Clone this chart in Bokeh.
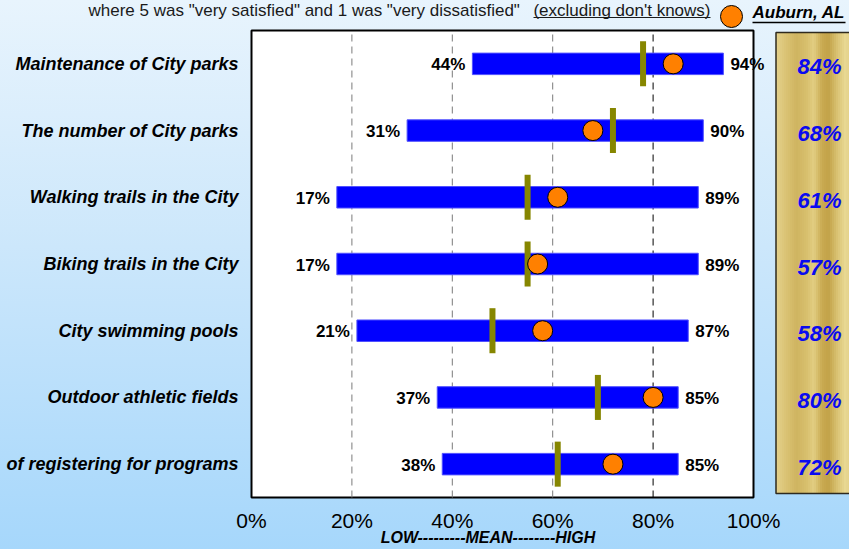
from bokeh.plotting import figure
from bokeh.models import Range1d
from bokeh.core.properties import value
from bokeh.embed import file_html
from bokeh.resources import INLINE

# ---------------- data ----------------
categories = ["Maintenance of City parks", "The number of City parks",
              "Walking trails in the City", "Biking trails in the City",
              "City swimming pools", "Outdoor athletic fields",
              "of registering for programs"]
low = [44, 31, 17, 17, 21, 37, 38]
high = [94, 90, 89, 89, 87, 85, 85]
mean = [78, 72, 55, 55, 48, 69, 61]
auburn = [84, 68, 61, 57, 58, 80, 72]
x_ticks = [0, 20, 40, 60, 80, 100]
x_tick_labels = ["0%", "20%", "40%", "60%", "80%", "100%"]
legend_label = "Auburn, AL"
axis_title = "LOW---------MEAN--------HIGH"
note_main = 'where 5 was "very satisfied" and 1 was "very dissatisfied"'
note_tail = "(excluding don't knows)"

# ---------------- layout (figure pixels) ----------------
W, H = 849, 549
FX0, FX1 = 251, 753          # pixel of 0% and 100%
FY_TOP, FY_BOT = 30, 497     # chart box top / bottom
ppu = (FX1 - FX0) / 100.0
n = len(categories)
row_px = (FY_BOT - FY_TOP) / n
ys = [n - 0.5 - k for k in range(n)]
FONT = value("Liberation Sans")

p = figure(width=W, height=H, output_backend="svg", toolbar_location=None,
           x_range=Range1d(-FX0 / ppu, (W - FX0) / ppu),
           y_range=Range1d(-(H - FY_BOT) / row_px, FY_BOT / row_px),
           min_border=0, x_axis_location=None, y_axis_location=None)
p.extra_x_ranges = {"px": Range1d(0, W)}
p.extra_y_ranges = {"px": Range1d(H, 0)}
p.grid.visible = False
p.outline_line_color = None
p.background_fill_color = None
p.border_fill_color = None
p.styles = {"background": "linear-gradient(180deg, #e8f4fd 0%, #cce7fb 45%, #a6d7fb 100%)"}

# chart box
p.quad(left=[x_ticks[0]], right=[x_ticks[-1]], bottom=[0], top=[n],
       fill_color="white", line_color="black", line_width=2)
# dashed grid lines
grid_x = x_ticks[1:-1]
p.segment(x0=grid_x, y0=[0] * len(grid_x), x1=grid_x, y1=[n] * len(grid_x),
          line_color=["#7a7a7a", "#7a7a7a", "#7a7a7a", "#000000"],
          line_width=1, line_dash="7 5")

# range bars
p.hbar(y=ys, left=low, right=high, height=0.322,
       fill_color="#0000FF", line_color="#5050FF", line_width=1)
# mean markers
p.rect(x=mean, y=ys, width=6, width_units="screen", height=0.675,
       fill_color="#868600", line_color=None)
# Auburn dots
p.scatter(x=auburn, y=ys, size=20, fill_color="#FF8000",
          line_color="black", line_width=1)

# low / high labels
p.text(x=low, y=ys, text=[f"{v}%" for v in low], x_offset=-7, y_offset=1,
       text_align="right", text_baseline="middle", text_font=FONT,
       text_font_size="17px", text_font_style="bold", text_color="black")
p.text(x=high, y=ys, text=[f"{v}%" for v in high], x_offset=7, y_offset=1,
       text_align="left", text_baseline="middle", text_font=FONT,
       text_font_size="17px", text_font_style="bold", text_color="black")

# category labels
p.text(x=[x_ticks[0]] * n, y=ys, text=categories, x_offset=-13,
       text_align="right", text_baseline="middle", text_font=FONT,
       text_font_size="18px", text_font_style="bold italic", text_color="black")

# x tick labels (placed on the percent scale, below the chart box)
p.text(x=x_ticks, y=[520] * len(x_ticks), text=x_tick_labels, y_range_name="px",
       text_align="center", text_baseline="middle", text_font=FONT,
       text_font_size="21px", text_color="black")
p.text(x=[487.5], y=[537], text=[axis_title], x_range_name="px", y_range_name="px",
       text_align="center", text_baseline="middle", text_font=FONT,
       text_font_size="16px", text_font_style="bold italic", text_color="black")

# gold panel (decoration) in pixel coordinates
gx0, gx1, gy0, gy1 = 775.5, 849, 32, 493
stops = [(0.00, (0xe4, 0xd2, 0x8c)), (0.12, (0xda, 0xc3, 0x74)),
         (0.25, (0xcf, 0xb4, 0x60)), (0.38, (0xd8, 0xc0, 0x6e)),
         (0.46, (0xe2, 0xce, 0x82)), (0.56, (0xc9, 0xaa, 0x52)),
         (0.64, (0xc2, 0xa2, 0x48)), (0.74, (0xd8, 0xc0, 0x70)),
         (0.84, (0xe8, 0xd8, 0x92)), (0.93, (0xe2, 0xcf, 0x86)),
         (1.00, (0xd4, 0xbb, 0x68))]


def interp(t):
    for (t0, c0), (t1, c1) in zip(stops[:-1], stops[1:]):
        if t0 <= t <= t1:
            f = (t - t0) / (t1 - t0) if t1 > t0 else 0
            return "#%02x%02x%02x" % tuple(int(round(a + (b - a) * f)) for a, b in zip(c0, c1))
    return "#%02x%02x%02x" % stops[-1][1]


span_w = 82.0
nstr = 41
sw = span_w / nstr
lefts = [gx0 + i * sw for i in range(nstr)]
p.quad(left=lefts, right=[l + sw + 0.6 for l in lefts], bottom=[gy1] * nstr, top=[gy0] * nstr,
       fill_color=[interp((i + 0.5) / nstr) for i in range(nstr)], line_color=None,
       x_range_name="px", y_range_name="px")
p.quad(left=[gx0], right=[gx1 + 5], bottom=[gy1], top=[gy0], fill_color=None,
       line_color="#2e2a1e", line_width=1.5, x_range_name="px", y_range_name="px")

# Auburn values in the gold panel
p.text(x=[x_ticks[-1]] * n, y=ys, text=[f"{v}%" for v in auburn], x_offset=66, y_offset=3,
       text_align="center", text_baseline="middle", text_font=FONT,
       text_font_size="22px", text_font_style="bold italic", text_color="#0a0af0")

# legend
p.scatter(x=[731], y=[16], size=22, fill_color="#FF8000", line_color="black",
          line_width=1, x_range_name="px", y_range_name="px")
p.text(x=[752], y=[12], text=[legend_label], text_align="left", text_baseline="middle",
       text_font=FONT, text_font_size="17px", text_font_style="bold italic",
       text_color="black", x_range_name="px", y_range_name="px")
p.segment(x0=[752], y0=[22], x1=[845], y1=[22], line_color="black", line_width=1.5,
          x_range_name="px", y_range_name="px")

# note at top
p.text(x=[88], y=[0], text=[note_main], text_align="left", text_baseline="top",
       text_font=FONT, text_font_size="17px", text_color="#1a1a1a",
       x_range_name="px", y_range_name="px")
p.text(x=[710], y=[0], text=[note_tail], text_align="right", text_baseline="top",
       text_font=FONT, text_font_size="17px", text_color="#1a1a1a",
       x_range_name="px", y_range_name="px")
p.segment(x0=[533], y0=[17], x1=[710], y1=[17], line_color="#1a1a1a", line_width=1,
          x_range_name="px", y_range_name="px")

open("out.html", "w").write(file_html(p, INLINE))
